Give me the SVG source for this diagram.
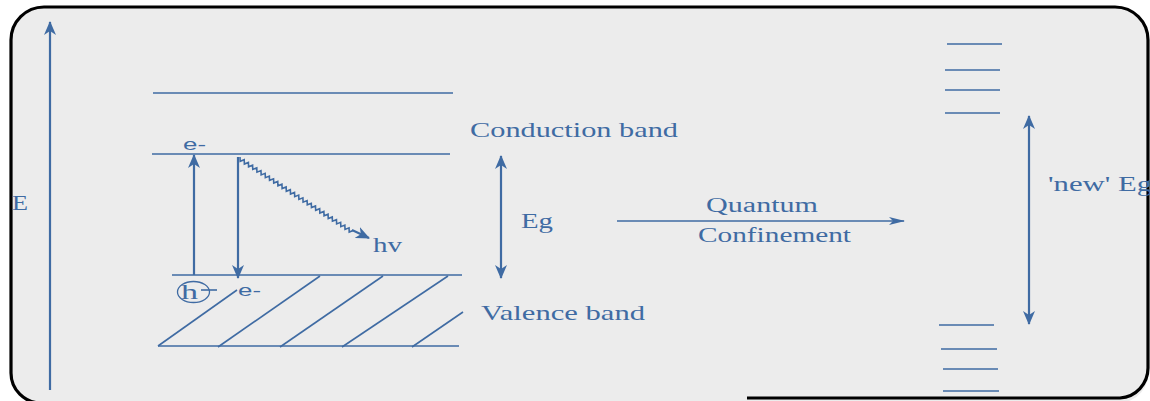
<svg xmlns="http://www.w3.org/2000/svg" width="1150" height="401" viewBox="0 0 1150 401">
<style>
.ln{stroke:#3f6ba3;stroke-width:1.6;fill:none}
.ar{stroke:#3f6ba3;stroke-width:2.2;fill:none}
.sf{font-family:"Liberation Serif",serif;fill:#3f6ba3}
.ss{font-family:"Liberation Sans",sans-serif;fill:#3f6ba3}
</style>
<defs>
<marker id="ah" viewBox="0 0 14 12" refX="13" refY="6" markerWidth="14" markerHeight="12" markerUnits="userSpaceOnUse" orient="auto-start-reverse">
<path d="M0,0 L14,6 L0,12 L4,6 Z" fill="#3f6ba3"/>
</marker>
<marker id="ahs" viewBox="0 0 16 8" refX="15" refY="4" markerWidth="16" markerHeight="8" markerUnits="userSpaceOnUse" orient="auto">
<path d="M0,0 L16,4 L0,8 L4,4 Z" fill="#3f6ba3"/>
</marker>
</defs>
<g id="frame">
<path d="M41,403 A30,30 0 0 1 11,373 L11,40 A33,33 0 0 1 44,7 L1115,7 A33,33 0 0 1 1148,40 L1148,368 A30,30 0 0 1 1118,403 Z" fill="#ececec"/>
<path d="M41,403 A30,30 0 0 1 11,373 L11,40 A33,33 0 0 1 44,7 L1115,7 A33,33 0 0 1 1148,40 L1148,368 A30,30 0 0 1 1120,398 L747,398" fill="none" stroke="#000" stroke-width="3.2"/>
</g>
<g id="energy-axis">
<line class="ar" x1="50" y1="390" x2="50" y2="22" marker-end="url(#ah)"/>
<text class="sf" x="12" y="210" font-size="20" textLength="16" lengthAdjust="spacingAndGlyphs">E</text>
</g>
<g id="bulk-bands">
<line class="ln" x1="153" y1="93" x2="453" y2="93"/>
<line class="ln" x1="152" y1="154" x2="450" y2="154"/>
<line class="ln" x1="172" y1="275" x2="462" y2="275"/>
<line class="ln" x1="158" y1="346" x2="459" y2="346"/>
<line class="ln" x1="158" y1="346" x2="237" y2="290"/>
<line class="ln" x1="218" y1="347" x2="320" y2="276"/>
<line class="ln" x1="280" y1="347" x2="383" y2="276"/>
<line class="ln" x1="342" y1="347" x2="448" y2="276"/>
<line class="ln" x1="412" y1="347" x2="463" y2="312"/>
<text class="ss" x="183" y="150" font-size="17" textLength="23" lengthAdjust="spacingAndGlyphs">e-</text>
<text class="ss" x="238" y="296" font-size="17" textLength="23" lengthAdjust="spacingAndGlyphs">e-</text>
<ellipse cx="193.5" cy="292" rx="16" ry="10.5" fill="none" stroke="#3f6ba3" stroke-width="1.3"/>
<text class="sf" x="181" y="299" font-size="20" textLength="17" lengthAdjust="spacingAndGlyphs">h</text>
<line class="ln" x1="201" y1="290" x2="217" y2="290" stroke-width="1"/>
<text class="sf" x="470" y="137" font-size="21" textLength="208" lengthAdjust="spacingAndGlyphs">Conduction band</text>
<text class="sf" x="481" y="320" font-size="21" textLength="164" lengthAdjust="spacingAndGlyphs">Valence band</text>
<text class="sf" x="521" y="228" font-size="21" textLength="32" lengthAdjust="spacingAndGlyphs">Eg</text>
<text class="sf" x="373" y="252" font-size="20" textLength="29" lengthAdjust="spacingAndGlyphs">hv</text>
</g>
<g id="connectors">
<line class="ar" x1="194" y1="275" x2="194" y2="155" marker-end="url(#ah)"/>
<line class="ar" x1="238" y1="157" x2="238" y2="278" marker-end="url(#ah)"/>
<path class="ln" stroke-width="1.3" transform="translate(240,157) rotate(33)" d="M0,0 l2.5,3.5l2.5,-3.5l2.5,3.5l2.5,-3.5l2.5,3.5l2.5,-3.5l2.5,3.5l2.5,-3.5l2.5,3.5l2.5,-3.5l2.5,3.5l2.5,-3.5l2.5,3.5l2.5,-3.5l2.5,3.5l2.5,-3.5l2.5,3.5l2.5,-3.5l2.5,3.5l2.5,-3.5l2.5,3.5l2.5,-3.5l2.5,3.5l2.5,-3.5l2.5,3.5l2.5,-3.5l2.5,3.5l2.5,-3.5l2.5,3.5l2.5,-3.5l2.5,3.5l2.5,-3.5l2.5,3.5l2.5,-3.5l2.5,3.5l2.5,-3.5l2.5,3.5l2.5,-3.5l2.5,3.5l2.5,-3.5l2.5,3.5l2.5,-3.5l2.5,3.5l2.5,-3.5l2.5,3.5l2.5,-3.5l2.5,3.5l2.5,-3.5l2.5,3.5l2.5,-3.5l2.5,3.5l2.5,-3.5l2.5,3.5l2.5,-3.5"/>
<line class="ar" x1="352" y1="230" x2="369" y2="238" marker-end="url(#ah)"/>
<line class="ar" x1="501" y1="156" x2="501" y2="278" stroke-width="2.4" marker-start="url(#ah)" marker-end="url(#ah)"/>
<line class="ln" x1="617" y1="221" x2="904" y2="221" marker-end="url(#ahs)"/>
<line class="ar" x1="1029" y1="116" x2="1029" y2="324" stroke-width="2.4" marker-start="url(#ah)" marker-end="url(#ah)"/>
</g>
<g id="quantum-label">
<text class="sf" x="706" y="212" font-size="20" textLength="112" lengthAdjust="spacingAndGlyphs">Quantum</text>
<text class="sf" x="698" y="242" font-size="20" textLength="153" lengthAdjust="spacingAndGlyphs">Confinement</text>
</g>
<g id="quantum-levels">
<line class="ln" x1="947" y1="44" x2="1002" y2="44"/>
<line class="ln" x1="945" y1="70" x2="1000" y2="70"/>
<line class="ln" x1="945" y1="90" x2="1000" y2="90"/>
<line class="ln" x1="945" y1="113" x2="1000" y2="113"/>
<line class="ln" x1="939" y1="325" x2="994" y2="325"/>
<line class="ln" x1="941" y1="349" x2="997" y2="349"/>
<line class="ln" x1="943" y1="369" x2="998" y2="369"/>
<line class="ln" x1="943" y1="391" x2="999" y2="391"/>
<text class="sf" x="1048" y="191" font-size="20" textLength="104" lengthAdjust="spacingAndGlyphs">'new' Eg</text>
</g>
</svg>
